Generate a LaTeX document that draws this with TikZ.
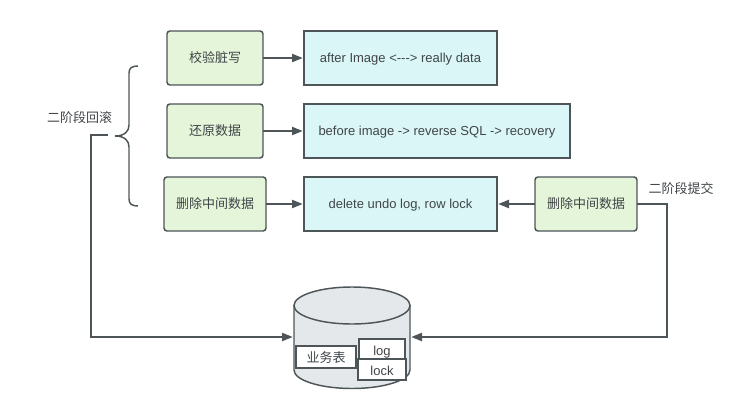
\documentclass[tikz,border=0pt]{standalone}
\usepackage{fontspec}
\setmainfont[Ligatures=NoCommon]{Liberation Sans}
\newfontfamily\cjk{Noto Sans CJK SC}
\usetikzlibrary{arrows.meta}
\definecolor{edgec}{HTML}{4D5559}
\definecolor{textc}{HTML}{404548}
\definecolor{greenf}{HTML}{E4F5D9}
\definecolor{bluef}{HTML}{DAF6F7}
\definecolor{cylf}{HTML}{E4E8EA}
\newcommand{\lowered}[2]{\raisebox{-#1pt}[0pt][0pt]{#2}}
\tikzset{
  px/.style={x=0.75pt,y=-0.75pt},
  base/.style={draw=edgec,line width=1.1pt,text=textc,font=\fontsize{9.75}{11}\selectfont,inner sep=0pt,outer sep=0pt,anchor=north west},
  greenbox/.style={base,fill=greenf,rounded corners=2.2pt},
  bluebox/.style={base,fill=bluef},
  whitebox/.style={base,fill=white},
  plainlabel/.style={text=textc,font=\cjk\fontsize{9.75}{11}\selectfont,inner sep=0pt},
  conn/.style={draw=edgec,line width=1.1pt,-{Triangle[length=8pt,width=6.2pt]},shorten >=1pt},
  wire/.style={draw=edgec,line width=1.1pt},
  cyl/.style={draw=edgec,line width=1.1pt,fill=cylf},
}
\begin{document}
\begin{tikzpicture}[px]
\useasboundingbox (0,0) rectangle (735,406);
% green boxes
\node[greenbox,minimum width=72pt,minimum height=40.5pt] (g1) at (167,31) {\cjk 校验脏写};
\node[greenbox,minimum width=72pt,minimum height=40.5pt] (g2) at (167,104) {\cjk 还原数据};
\node[greenbox,minimum width=76.5pt,minimum height=40.5pt] (g3) at (164,177) {\cjk 删除中间数据};
\node[greenbox,minimum width=76.5pt,minimum height=40.5pt] (g4) at (535,177) {\cjk 删除中间数据};
% blue boxes
\node[bluebox,minimum width=144.75pt,minimum height=40.5pt] (b1) at (304,31) {\lowered{3.3}{after Image <{-}{-}{-}> really data}};
\node[bluebox,minimum width=199.5pt,minimum height=40.5pt] (b2) at (304,104) {\lowered{3.3}{before image {-}> reverse SQL {-}> recovery}};
\node[bluebox,minimum width=144.75pt,minimum height=40.5pt] (b3) at (304,177) {\lowered{3.3}{delete undo log, row lock}};
% database
\coordinate (dbl) at (294,337);
\coordinate (dbr) at (410,337);
\path[cyl] (294,305.5) -- (294,370) .. controls (294,380.2) and (320,388.5) .. (352,388.5) .. controls (384,388.5) and (410,380.2) .. (410,370) -- (410,305.5) -- cycle;
\path[cyl] (352,305.5) ellipse[x radius=58,y radius=18.5];
\node[whitebox,minimum width=45pt,minimum height=16.5pt] (t) at (296,346) {\lowered{4.3}{\cjk 业务表}};
\node[whitebox,minimum width=34.5pt,minimum height=15pt] (l) at (359,339) {\lowered{4.75}{log}};
\node[whitebox,minimum width=36pt,minimum height=15.75pt] (k) at (358,359) {\lowered{4.25}{lock}};
% labels
\node[plainlabel] (rb) at (79.5,118) {二阶段回滚};
\node[plainlabel] (cm) at (681,189) {二阶段提交};
% brace
\draw[wire] (138,66) .. controls (132,66) and (129,68) .. (129,73) -- (129,125) .. controls (129,131) and (125,136) .. (115,136) .. controls (125,136) and (129,141) .. (129,147) -- (129,199) .. controls (129,204) and (132,206) .. (138,206);
% connectors
\draw[conn] (g1) -- (b1);
\draw[conn] (g2) -- (b2);
\draw[conn] (g3) -- (b3);
\draw[conn] (g4) -- (b3);
\coordinate (rbs) at (108,135);
\coordinate (rbc) at (91,135);
\coordinate (cmc) at (667,204);
\coordinate (cmd) at (667,337);
\coordinate (rbd) at (91,337);
\draw[conn] (rbs) -- (rbc) -- (rbd) -- (dbl);
\draw[conn] (g4.east) -- (cmc) -- (cmd) -- (dbr);
\end{tikzpicture}
\end{document}
